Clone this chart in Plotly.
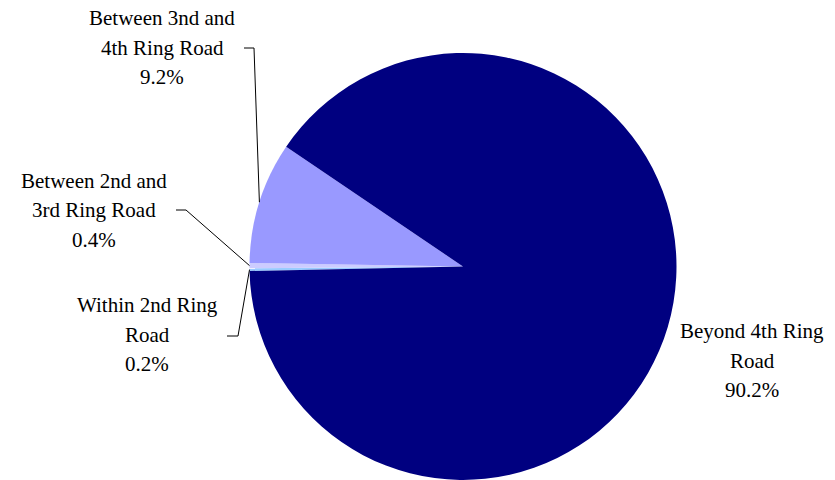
import math
import plotly.graph_objects as go

# Share of the total by ring-road zone (percent)
categories = [
    "Within 2nd Ring Road",
    "Between 2nd and 3rd Ring Road",
    "Between 3nd and 4th Ring Road",
    "Beyond 4th Ring Road",
]
shares = [0.2, 0.4, 9.2, 90.2]
colors = ["#99CCFF", "#CCCCFF", "#9999FF", "#000080"]

# Wrapped label text for each zone (the percentage line is added from shares)
label_lines = [
    ["Within 2nd Ring", "Road"],
    ["Between 2nd and", "3rd Ring Road"],
    ["Between 3nd and", "4th Ring Road"],
    ["Beyond 4th Ring", "Road"],
]

W, H = 835, 480
CX, CY, R = 463.0, 266.5, 213.5   # pie centre / radius in pixels
ROTATION = 268.8                  # start angle, clockwise from 12 o'clock

# Label block placement (pixel centre x, first-line centre y), and leader stubs
label_pos = [(147, 305), (94, 181), (162, 18), (752, 331)]
line_gap = 29.5
leader_stub = [((227, 336), (238, 336)), ((176, 210), (186, 210)),
               ((244, 48), (254, 48)), None]


def px(x):
    return x / W


def py(y):
    return 1 - y / H


fig = go.Figure(go.Pie(
    labels=categories,
    values=shares,
    sort=False,
    direction="clockwise",
    rotation=ROTATION,
    marker=dict(colors=colors, line=dict(width=0)),
    textinfo="none",
    hoverinfo="label+percent",
    showlegend=False,
    domain=dict(x=[px(CX - R), px(CX + R)], y=[py(CY + R), py(CY - R)]),
))

annotations = []
shapes = []
total = sum(shares)
cum = 0.0
for i, v in enumerate(shares):
    mid = math.radians(ROTATION + 360.0 * (cum + v / 2) / total)
    cum += v
    lines = label_lines[i] + [f"{v:.1f}%"]
    lx, ly = label_pos[i]
    for k, t in enumerate(lines):
        annotations.append(dict(
            x=px(lx), y=py(ly + k * line_gap), xref="paper", yref="paper",
            text=t, showarrow=False, xanchor="center", yanchor="middle",
            font=dict(family="Liberation Serif, Times New Roman, serif",
                      size=21, color="#000000"),
        ))
    stub = leader_stub[i]
    if stub is not None:
        ex = CX + R * math.sin(mid)
        ey = CY - R * math.cos(mid)
        (x0, y0), (x1, y1) = stub
        path = (f"M {px(x0)},{py(y0)} L {px(x1)},{py(y1)} "
                f"L {px(ex)},{py(ey)}")
        shapes.append(dict(type="path", path=path, xref="paper", yref="paper",
                           line=dict(color="#000000", width=1)))

fig.update_layout(
    width=W, height=H,
    margin=dict(l=0, r=0, t=0, b=0),
    paper_bgcolor="#FFFFFF",
    plot_bgcolor="#FFFFFF",
    annotations=annotations,
    shapes=shapes,
)

fig.write_html("out.html")
